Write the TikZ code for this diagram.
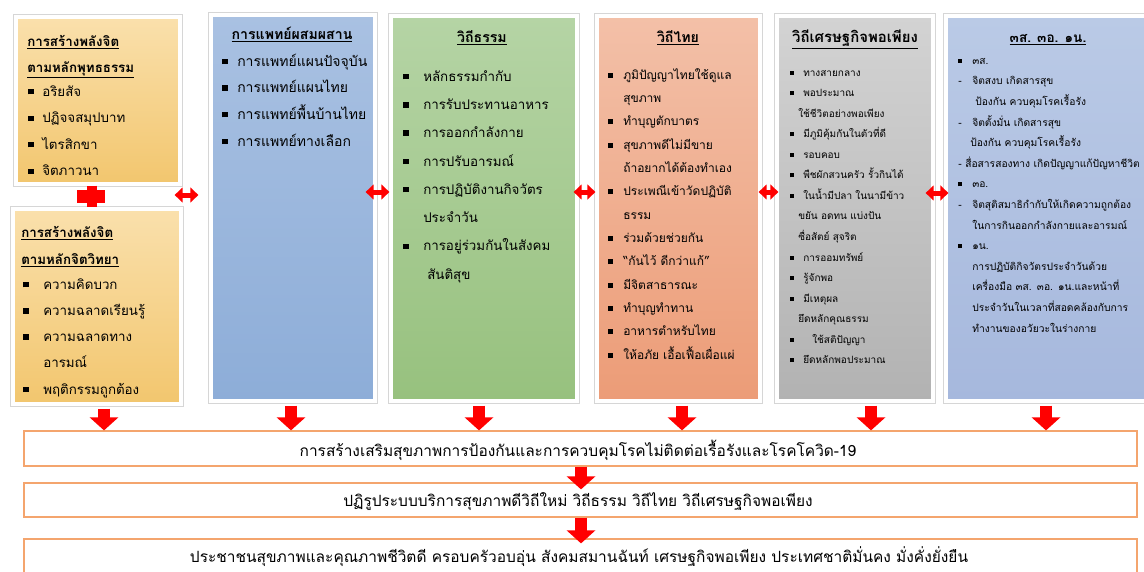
\documentclass[tikz,border=0pt]{standalone}
\usepackage{fontspec}
\setmainfont{Loma}[Script=Thai]
\usetikzlibrary{arrows.meta,shadows,fit,calc}
\definecolor{goldT}{RGB}{250,224,172}
\definecolor{goldB}{RGB}{242,198,110}
\definecolor{blueT}{RGB}{169,193,226}
\definecolor{blueB}{RGB}{141,173,216}
\definecolor{greenT}{RGB}{181,212,165}
\definecolor{greenB}{RGB}{151,193,126}
\definecolor{salT}{RGB}{243,192,168}
\definecolor{salB}{RGB}{236,156,119}
\definecolor{greyT}{RGB}{211,211,211}
\definecolor{greyB}{RGB}{178,178,178}
\definecolor{slateT}{RGB}{186,202,230}
\definecolor{slateB}{RGB}{166,184,221}
\definecolor{boxline}{RGB}{244,165,110}
\definecolor{arrred}{RGB}{255,0,0}
\newcommand\bx{\rule[0.15em]{0.4em}{0.4em}}
\newcommand\li[2]{\noindent\hangindent=#1\hangafter=1\makebox[#1][l]{\bx}#2\par}
\tikzset{
  panel/.style={inner sep=0pt, draw=white, line width=2.4pt,
    drop shadow={shadow xshift=2.2pt, shadow yshift=-2.2pt, opacity=0.22, fill=black},
    preaction={draw=black!16, line width=3.9pt}},
  lst/.style={anchor=north west, inner sep=0pt, text width=#1},
  ttl/.style={anchor=base, inner sep=0pt, font=\fontsize{10.6}{12}\selectfont\bfseries},
  ttlw/.style={anchor=base west, inner sep=0pt, font=\fontsize{10}{12}\selectfont\bfseries},
  sbox/.style={inner sep=0pt, draw=boxline, line width=0.9pt, fill=white},
  stxt/.style={anchor=base, inner sep=0pt, font=\fontsize{11.6}{13}\selectfont},
  blk/.style={draw=arrred, line width=9pt, -{Triangle[length=9.75pt,width=21pt]}},
  dbl/.style={draw=arrred, line width=3.75pt, {Triangle[length=6pt,width=11pt]}-{Triangle[length=6pt,width=11pt]}}
}
\begin{document}
\begin{tikzpicture}[x=0.75pt,y=-0.75pt]
\useasboundingbox (0,0) rectangle (1144,571);
\clip (0,0) rectangle (1144,571);
\fill[white] (0,0) rectangle (1144,571);
% panels
\node[panel, top color=goldT, bottom color=goldB, fit={(16,17)(180,184)}] (c1a) {};
\node[panel, top color=goldT, bottom color=goldB, fit={(13,209)(181,404)}] (c1b) {};
\node[panel, top color=blueT, bottom color=blueB, fit={(211,15)(375,401)}] (c2) {};
\node[panel, top color=greenT, bottom color=greenB, fit={(391,16)(577,401)}] (c3) {};
\node[panel, top color=salT, bottom color=salB, fit={(597,16)(760,401)}] (c4) {};
\node[panel, top color=greyT, bottom color=greyB, fit={(777,16)(933,401)}] (c5) {};
\node[panel, top color=slateT, bottom color=slateB, fit={(946,16)(1170,401)}] (c6) {};
% bottom boxes
\node[sbox, fit={(24,431)(1137,466)}] (sA) {};
\node[sbox, fit={(24,483)(1137,517)}] (sB) {};
\node[sbox, fit={(24,539)(1137,580)}] (sC) {};
% titles
\node[ttlw] (c1ah1) at (27,46) {\underline{การสร้างพลังจิต}};
\node[ttlw] (c1ah2) at (27,72) {\underline{ตามหลักพุทธธรรม}};
\node[ttlw] (c1bh1) at (21,237) {\underline{การสร้างพลังจิต}};
\node[ttlw] (c1bh2) at (21,264) {\underline{ตามหลักจิตวิทยา}};
\node[ttl] (c2h) at (292,39) {\underline{การแพทย์ผสมผสาน}};
\node[ttl] (c3h) at (482,42) {\underline{วิถีธรรม}};
\node[ttl] (c4h) at (678,42) {\underline{วิถีไทย}};
\node[ttl, font=\fontsize{11.2}{12}\selectfont\bfseries] (c5h) at (855,42) {\underline{วิถีเศรษฐกิจพอเพียง}};
\node[ttl, font=\fontsize{10.2}{12}\selectfont\bfseries] (c6h) at (1048,42) {\underline{๓ส. ๓อ. ๑น.}};
% lists
\node[lst=150pt, font=\fontsize{10}{19.9}\selectfont] (c1al) at (28,77.5) {%
\li{10.5pt}{\strut อริยสัจ}\li{10.5pt}{ปฏิจจสมุปบาท}\li{10.5pt}{ไตรสิกขา}\li{10.5pt}{จิตภาวนา}};
\node[lst=150pt, font=\fontsize{10}{19.65}\selectfont] (c1bl) at (23,270.7) {%
\li{15pt}{\strut ความคิดบวก}\li{15pt}{ความฉลาดเรียนรู้}\li{15pt}{ความฉลาดทาง\newline อารมณ์}\li{15pt}{พฤติกรรมถูกต้อง}};
\node[lst=160pt, font=\fontsize{10.5}{20}\selectfont] (c2l) at (222,47.3) {%
\li{11.25pt}{\strut การแพทย์แผนปัจจุบัน}\li{11.25pt}{การแพทย์แผนไทย}\li{11.25pt}{การแพทย์พื้นบ้านไทย}\li{11.25pt}{การแพทย์ทางเลือก}};
\node[lst=170pt, font=\fontsize{10}{21.2}\selectfont] (c3l) at (403,61.2) {%
\li{15pt}{\strut หลักธรรมกำกับ}\li{15pt}{การรับประทานอาหาร}\li{15pt}{การออกกำลังกาย}\li{15pt}{การปรับอารมณ์}%
\li{15pt}{การปฏิบัติงานกิจวัตร\newline ประจำวัน}\li{15pt}{การอยู่ร่วมกันในสังคม\newline\hspace*{3pt}สันติสุข}};
\node[lst=160pt, font=\fontsize{9}{17.5}\selectfont] (c4l) at (608,62.7) {%
\li{11.25pt}{\strut ภูมิปัญญาไทยใช้ดูแล\newline สุขภาพ}\li{11.25pt}{ทำบุญตักบาตร}\li{11.25pt}{สุขภาพดีไม่มีขาย\newline ถ้าอยากได้ต้องทำเอง}%
\li{11.25pt}{ประเพณีเข้าวัดปฏิบัติ\newline ธรรม}\li{11.25pt}{ร่วมด้วยช่วยกัน}\li{11.25pt}{“กันไว้ ดีกว่าแก้”}%
\li{11.25pt}{มีจิตสาธารณะ}\li{11.25pt}{ทำบุญทำทาน}\li{11.25pt}{อาหารตำหรับไทย}\li{11.25pt}{ให้อภัย เอื้อเฟื้อเผื่อแผ่}};
\node[lst=150pt, font=\fontsize{7.5}{15.4}\selectfont] (c5l) at (790,61.6) {%
\li{9.75pt}{\strut ทางสายกลาง}\li{9.75pt}{พอประมาณ\newline\hspace*{-3.75pt}ใช้ชีวิตอย่างพอเพียง}\li{9.75pt}{มีภูมิคุ้มกันในตัวที่ดี}%
\li{9.75pt}{รอบคอบ}\li{9.75pt}{พืชผักสวนครัว รั้วกินได้}%
\li{9.75pt}{ในน้ำมีปลา ในนามีข้าว\newline\hspace*{-3.75pt}ขยัน อดทน แบ่งปัน\newline\hspace*{-3.75pt}ซื่อสัตย์ สุจริต}%
\li{9.75pt}{การออมทรัพย์}\li{9.75pt}{รู้จักพอ}\li{9.75pt}{มีเหตุผล\newline\hspace*{-3.75pt}ยึดหลักคุณธรรม}%
\li{9.75pt}{\hspace*{6.75pt}ใช้สติปัญญา}\li{9.75pt}{ยึดหลักพอประมาณ}};
\node[lst=200pt, font=\fontsize{7.7}{15.45}\selectfont] (c6l) at (958,49.6) {%
\noindent\makebox[10.5pt][l]{\bx}\strut ๓ส.\\
\makebox[10.5pt][l]{-}จิตสงบ เกิดสารสุข\\
\hspace*{12.75pt}ป้องกัน ควบคุมโรคเรื้อรัง\\
\makebox[10.5pt][l]{-}จิตตั้งมั่น เกิดสารสุข\\
\hspace*{9pt}ป้องกัน ควบคุมโรคเรื้อรัง\\
\makebox[5.25pt][l]{-}สื่อสารสองทาง เกิดปัญญาแก้ปัญหาชีวิต\\
\makebox[10.5pt][l]{\bx}๓อ.\\
\makebox[10.5pt][l]{-}จิตสุติสมาธิกำกับให้เกิดความถูกต้อง\\
\hspace*{10.5pt}ในการกินออกกำลังกายและอารมณ์\\
\makebox[10.5pt][l]{\bx}๑น.\\
\hspace*{10.5pt}การปฏิบัติกิจวัตรประจำวันด้วย\\
\hspace*{10.5pt}เครื่องมือ ๓ส. ๓อ. ๑น.และหน้าที่\\
\hspace*{10.5pt}ประจำวันในเวลาที่สอดคล้องกับการ\\
\hspace*{10.5pt}ทำงานของอวัยวะในร่างกาย};
% bottom texts
\node[stxt] (tA) at (578,456) {การสร้างเสริมสุขภาพการป้องกันและการควบคุมโรคไม่ติดต่อเรื้อรังและโรคโควิด-19};
\node[stxt] (tB) at (578,506) {ปฏิรูประบบบริการสุขภาพดีวิถีใหม่ วิถีธรรม วิถีไทย วิถีเศรษฐกิจพอเพียง};
\node[stxt] (tC) at (579,562) {ประชาชนสุขภาพและคุณภาพชีวิตดี ครอบครัวอบอุ่น สังคมสมานฉันท์ เศรษฐกิจพอเพียง ประเทศชาติมั่นคง มั่งคั่งยั่งยืน};
% plus between left panels
\draw[arrred, line width=7.5pt] (c1a.south -| 92,0) -- (c1b.north -| 92,0);
\fill[arrred] (77,190) rectangle (105,203);
% double arrows between columns
\draw[dbl] ($(c1a.east |- 0,195)+(-7,0)$) -- ($(c2.west |- 0,195)+(-11,0)$);
\draw[dbl] ($(c2.east |- 0,192)+(-11,0)$) -- (c3.west |- 0,192);
\draw[dbl] ($(c3.east |- 0,192)+(-5,0)$) -- (c4.west |- 0,192);
\draw[dbl] ($(c4.east |- 0,192)+(-3,0)$) -- ($(c5.west |- 0,192)+(3,0)$);
\draw[dbl] ($(c5.east |- 0,193)+(-9,0)$) -- ($(c6.west |- 0,193)+(4,0)$);
% down arrows to first box
\draw[blk] ($(c1b.south -| 104,0)+(0,3)$) -- (sA.north -| 104,0);
\draw[blk] ($(c2.south -| 291,0)+(0,3)$) -- (sA.north -| 291,0);
\draw[blk] ($(c3.south -| 479,0)+(0,3)$) -- (sA.north -| 479,0);
\draw[blk] ($(c4.south -| 682,0)+(0,3)$) -- (sA.north -| 682,0);
\draw[blk] ($(c5.south -| 871,0)+(0,3)$) -- (sA.north -| 871,0);
\draw[blk] ($(c6.south -| 1046,0)+(0,3)$) -- (sA.north -| 1046,0);
% chain arrows
\draw[blk] (sA.south -| 581,0) -- ($(sB.north -| 581,0)+(0,7)$);
\draw[blk] (sB.south -| 581,0) -- ($(sC.north -| 581,0)+(0,5)$);
\end{tikzpicture}
\end{document}
